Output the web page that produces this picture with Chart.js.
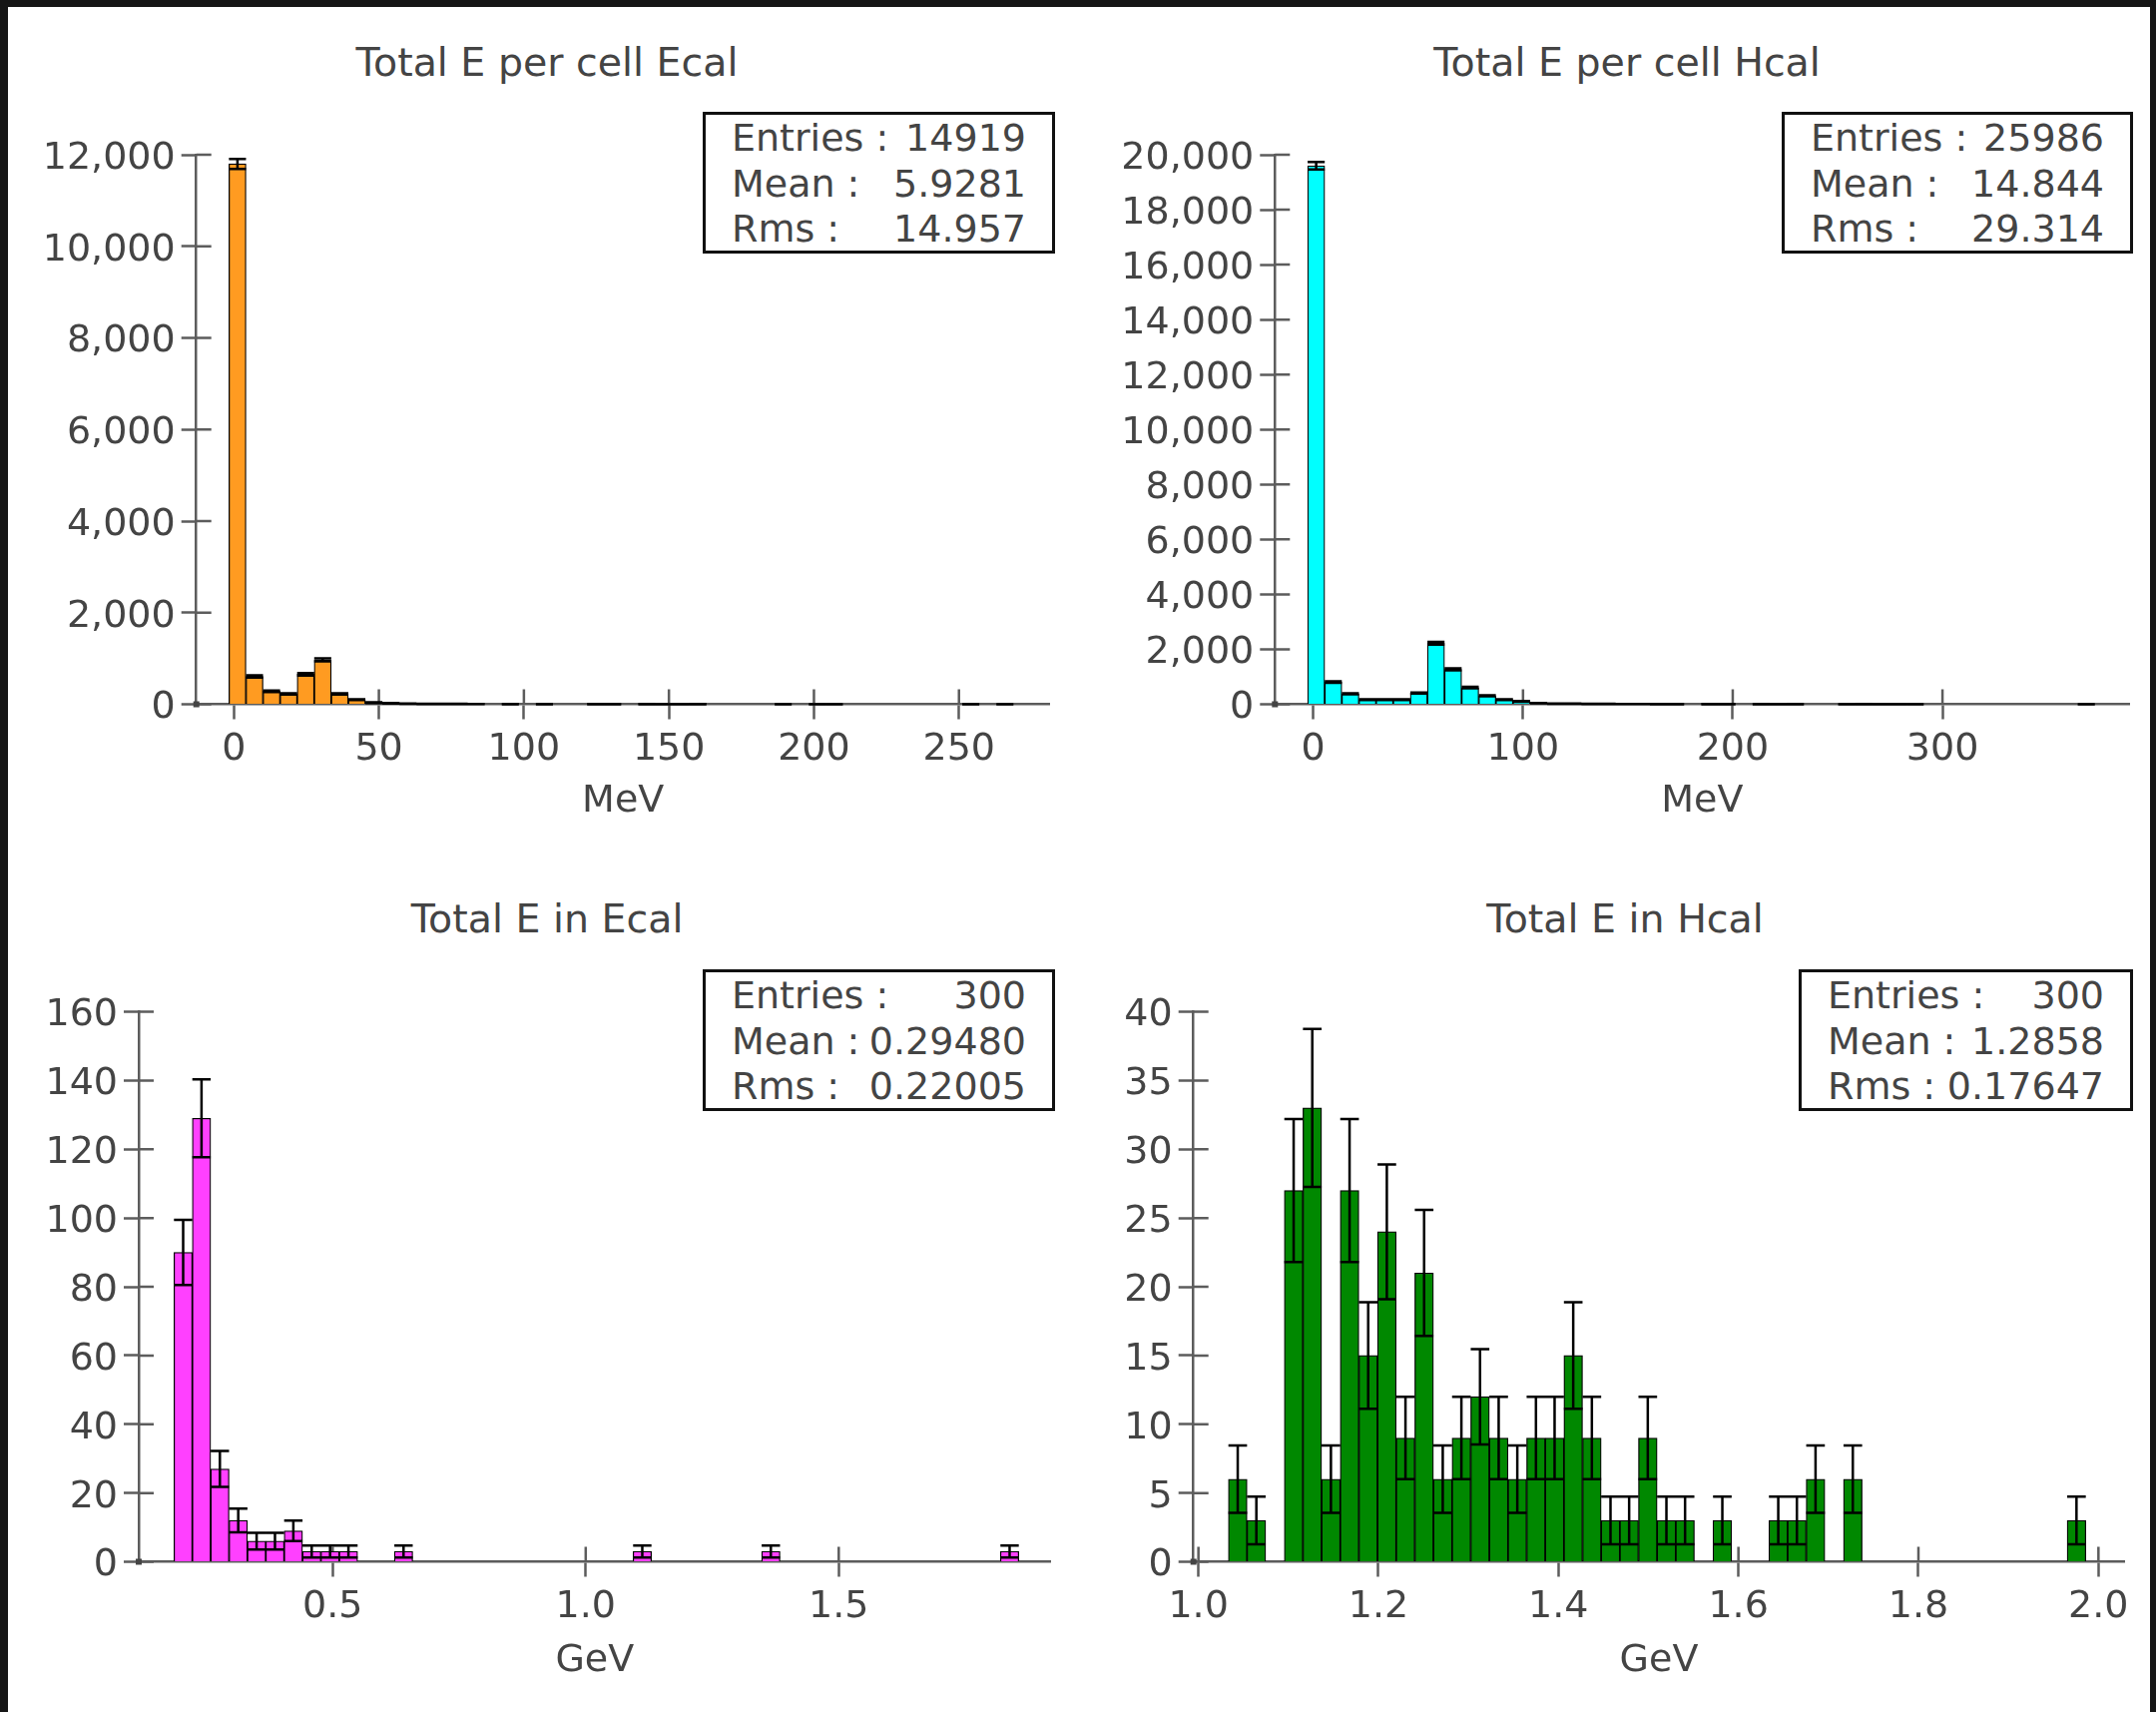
<!DOCTYPE html>
<html>
<head>
<meta charset="utf-8">
<title>Calorimeter energy histograms</title>
<script src="https://cdn.jsdelivr.net/npm/chart.js@4.4.1/dist/chart.umd.min.js"></script>
<style>
    html, body { margin: 0; padding: 0; }
    body {
        width: 2160px; height: 1715px; position: relative; overflow: hidden;
        background: #161616;
        font-family: 'DejaVu Sans', sans-serif; color: #444;
    }
    #sheet { position: absolute; left: 8px; top: 7px; right: 6px; bottom: 0; background: #fff; }
    canvas { position: absolute; }
    .title {
        position: absolute; font-size: 39.5px; line-height: 38px; height: 38px;
        white-space: nowrap; transform: translateX(-50%);
    }
    .stats {
        position: absolute; box-sizing: border-box; border: 3px solid #111;
        background: #fff; padding: 1px 26px 0 26px; font-size: 38px; z-index: 2;
    }
    .stats div { display: flex; justify-content: space-between; height: 45.7px; line-height: 45.7px; white-space: pre; }
</style>
</head>
<body>
<div id="sheet"></div>
<canvas id="ecalCell"></canvas>
<canvas id="hcalCell"></canvas>
<canvas id="ecalTotal"></canvas>
<canvas id="hcalTotal"></canvas>

<script>
// --- DATA ---
// 46-bin histograms, counts
const ecalCellCounts = [
    11800, 610, 285, 225, 655, 970, 225, 100, 35, 22,
    15, 10, 8, 6, 5, 0, 3, 0, 3, 0,
    0, 2, 2, 0, 2, 1, 1, 2, 0, 0,
    0, 0, 1, 0, 1, 1, 0, 0, 0, 0,
    0, 0, 0, 1, 0, 1
];
const hcalCellCounts = [
    19600, 810, 380, 170, 170, 170, 410, 2220, 1270, 610,
    310, 170, 105, 40, 25, 20, 15, 12, 10, 8,
    6, 5, 0, 3, 4, 0, 3, 2, 3, 0,
    0, 2, 3, 2, 2, 2, 0, 0, 0, 0,
    0, 0, 0, 0, 0, 2
];
const ecalTotalCounts = [
    90, 129, 27, 12, 6, 6, 9, 3, 3, 3,
    0, 0, 3, 0, 0, 0, 0, 0, 0, 0,
    0, 0, 0, 0, 0, 3, 0, 0, 0, 0,
    0, 0, 3, 0, 0, 0, 0, 0, 0, 0,
    0, 0, 0, 0, 0, 3
];
const hcalTotalCounts = [
    6, 3, 0, 27, 33, 6, 27, 15, 24, 9,
    21, 6, 9, 12, 9, 6, 9, 9, 15, 9,
    3, 3, 9, 3, 3, 0, 3, 0, 0, 3,
    3, 6, 0, 6, 0, 0, 0, 0, 0, 0,
    0, 0, 0, 0, 0, 3
];

// bin low edge and width of each histogram
const ecalCellBinLow = -1.7,   ecalCellBinWidth = 5.88;
const hcalCellBinLow = -2.7,   hcalCellBinWidth = 8.16;
const ecalTotalBinLow = 0.1864, ecalTotalBinWidth = 0.03629;
const hcalTotalBinLow = 1.0333, hcalTotalBinWidth = 0.02071;

// axis ranges and ticks
const ecalCellXRange = [-12.94, 281.3];
const hcalCellXRange = [-18.28, 389.1];
const ecalTotalXRange = [0.1168, 1.9187];
const hcalTotalXRange = [0.9945, 2.0288];

const ecalCellXTicks = [0, 50, 100, 150, 200, 250];
const ecalCellYTicks = [0, 2000, 4000, 6000, 8000, 10000, 12000];
const hcalCellXTicks = [0, 100, 200, 300];
const hcalCellYTicks = [0, 2000, 4000, 6000, 8000, 10000, 12000, 14000, 16000, 18000, 20000];
const ecalTotalXTicks = [0.5, 1.0, 1.5];
const ecalTotalYTicks = [0, 20, 40, 60, 80, 100, 120, 140, 160];
const hcalTotalXTicks = [1.0, 1.2, 1.4, 1.6, 1.8, 2.0];
const hcalTotalYTicks = [0, 5, 10, 15, 20, 25, 30, 35, 40];

// stats boxes
const statLabels = ['Entries :', 'Mean :', 'Rms :'];
const ecalCellStats = ['14919', '5.9281', '14.957'];
const hcalCellStats = ['25986', '14.844', '29.314'];
const ecalTotalStats = ['300', '0.29480', '0.22005'];
const hcalTotalStats = ['300', '1.2858', '0.17647'];

// --- STYLE ---
const FONT = { family: "'DejaVu Sans', sans-serif", size: 38 };
const TEXT_COLOR = '#444';
const AXIS_COLOR = '#5c5c5c';
const TICK_LEN = 15;

// --- PLUGIN: inner tick halves, error bars, origin dot ---
const histDecor = {
    id: 'histDecor',
    beforeDatasetsDraw(chart) {
        const { ctx, chartArea, scales: { x, y } } = chart;
        ctx.save();
        ctx.strokeStyle = AXIS_COLOR;
        ctx.lineWidth = 2.5;
        ctx.beginPath();
        x.ticks.forEach(t => {
            const px = x.getPixelForValue(t.value);
            ctx.moveTo(px, chartArea.bottom);
            ctx.lineTo(px, chartArea.bottom - TICK_LEN);
        });
        y.ticks.forEach(t => {
            const py = y.getPixelForValue(t.value);
            ctx.moveTo(chartArea.left, py);
            ctx.lineTo(chartArea.left + TICK_LEN, py);
        });
        ctx.stroke();
        ctx.restore();
    },
    afterDatasetsDraw(chart) {
        const { ctx, chartArea, scales: { y } } = chart;
        const meta = chart.getDatasetMeta(0);
        const points = chart.data.datasets[0].data;
        ctx.save();
        ctx.strokeStyle = '#000';
        ctx.lineWidth = 2.5;
        ctx.beginPath();
        meta.data.forEach((bar, i) => {
            const v = points[i].y;
            if (!v) return;
            const err = Math.sqrt(v);
            const { x, width } = bar.getProps(['x', 'width'], true);
            const hi = y.getPixelForValue(v + err);
            const lo = y.getPixelForValue(v - err);
            ctx.moveTo(x, hi); ctx.lineTo(x, lo);
            ctx.moveTo(x - width / 2, hi); ctx.lineTo(x + width / 2, hi);
            ctx.moveTo(x - width / 2, lo); ctx.lineTo(x + width / 2, lo);
        });
        ctx.stroke();
        ctx.fillStyle = '#444';
        ctx.fillRect(chartArea.left - 3, chartArea.bottom - 3, 6, 6);
        ctx.restore();
    }
};

// --- BUILD ---
function addTitle(text, cx, cy) {
    const el = document.createElement('div');
    el.className = 'title';
    el.textContent = text;
    el.style.left = cx + 'px';
    el.style.top = (cy - 19) + 'px';
    document.body.appendChild(el);
}

function addStats(values, box) {
    const el = document.createElement('div');
    el.className = 'stats';
    Object.assign(el.style, {
        left: box.left + 'px', top: box.top + 'px',
        width: box.width + 'px', height: box.height + 'px'
    });
    el.innerHTML = statLabels.map((label, i) =>
        `<div><span>${label}</span><span>${values[i]}</span></div>`).join('');
    document.body.appendChild(el);
}

function makeHist(id, counts, binLow, binWidth, xRange, xTicks, yTicks, colour, unit, xLabel, layout) {
    const canvas = document.getElementById(id);
    canvas.width = layout.width;
    canvas.height = layout.height;
    canvas.style.left = layout.left + 'px';
    canvas.style.top = layout.top + 'px';

    const points = counts.map((c, i) => ({ x: binLow + (i + 0.5) * binWidth, y: c }));

    return new Chart(canvas, {
        type: 'bar',
        data: {
            datasets: [{
                data: points,
                backgroundColor: colour,
                borderColor: '#000',
                borderWidth: 1.25,
                barPercentage: 1,
                categoryPercentage: 1
            }]
        },
        options: {
            responsive: false,
            animation: false,
            events: [],
            layout: {
                autoPadding: false,
                padding: { left: 0, top: layout.padTop, right: layout.padRight, bottom: 0 }
            },
            plugins: { legend: { display: false }, tooltip: { enabled: false } },
            scales: {
                x: {
                    type: 'linear',
                    min: xRange[0],
                    max: xRange[1],
                    offset: false,
                    afterBuildTicks: s => { s.ticks = xTicks.map(v => ({ value: v })); },
                    afterFit: s => { s.height = layout.xAxisHeight; },
                    grid: { offset: false, drawOnChartArea: false, drawTicks: true, tickLength: TICK_LEN, tickColor: AXIS_COLOR, tickWidth: 2.5, color: AXIS_COLOR },
                    border: { display: true, color: AXIS_COLOR, width: 2.5 },
                    ticks: {
                        autoSkip: false, maxRotation: 0, minRotation: 0,
                        padding: 8, color: TEXT_COLOR, font: FONT,
                        callback: xLabel
                    },
                    title: { display: true, text: unit, color: TEXT_COLOR, font: FONT, padding: 0 }
                },
                y: {
                    min: yTicks[0],
                    max: yTicks[yTicks.length - 1],
                    afterBuildTicks: s => { s.ticks = yTicks.map(v => ({ value: v })); },
                    afterFit: s => { s.width = layout.yAxisWidth; },
                    grid: { drawOnChartArea: false, drawTicks: true, tickLength: TICK_LEN, tickColor: AXIS_COLOR, tickWidth: 2.5, color: AXIS_COLOR },
                    border: { display: true, color: AXIS_COLOR, width: 2.5 },
                    ticks: {
                        padding: 6, labelOffset: 4, color: TEXT_COLOR, font: FONT,
                        callback: v => Number(v).toLocaleString('en-US')
                    }
                }
            }
        },
        plugins: [histDecor]
    });
}

const intLabel = v => String(v);
const oneDecimal = v => Number(v).toFixed(1);

makeHist('ecalCell', ecalCellCounts, ecalCellBinLow, ecalCellBinWidth, ecalCellXRange, ecalCellXTicks, ecalCellYTicks,
    '#ff9b21', 'MeV', intLabel,
    { left: 8, top: 100, width: 1072, height: 726, padTop: 55, padRight: 28.3, yAxisWidth: 188.7, xAxisHeight: 120.5 });
makeHist('hcalCell', hcalCellCounts, hcalCellBinLow, hcalCellBinWidth, hcalCellXRange, hcalCellXTicks, hcalCellYTicks,
    '#00ffff', 'MeV', intLabel,
    { left: 1085, top: 100, width: 1070, height: 726, padTop: 55, padRight: 21.7, yAxisWidth: 192.3, xAxisHeight: 120.5 });
makeHist('ecalTotal', ecalTotalCounts, ecalTotalBinLow, ecalTotalBinWidth, ecalTotalXRange, ecalTotalXTicks, ecalTotalYTicks,
    '#ff40ff', 'GeV', oneDecimal,
    { left: 8, top: 960, width: 1072, height: 727, padTop: 53.5, padRight: 27.4, yAxisWidth: 131, xAxisHeight: 122.5 });
makeHist('hcalTotal', hcalTotalCounts, hcalTotalBinLow, hcalTotalBinWidth, hcalTotalXRange, hcalTotalXTicks, hcalTotalYTicks,
    '#008800', 'GeV', oneDecimal,
    { left: 1085, top: 960, width: 1070, height: 727, padTop: 53.5, padRight: 26.7, yAxisWidth: 110.7, xAxisHeight: 122.5 });

addTitle('Total E per cell Ecal', 548, 62);
addTitle('Total E per cell Hcal', 1630, 62);
addTitle('Total E in Ecal', 548, 920);
addTitle('Total E in Hcal', 1628, 920);

addStats(ecalCellStats, { left: 704, top: 112, width: 353, height: 142 });
addStats(hcalCellStats, { left: 1785, top: 112, width: 352, height: 142 });
addStats(ecalTotalStats, { left: 704, top: 971, width: 353, height: 142 });
addStats(hcalTotalStats, { left: 1802, top: 971, width: 335, height: 142 });
</script>
</body>
</html>
